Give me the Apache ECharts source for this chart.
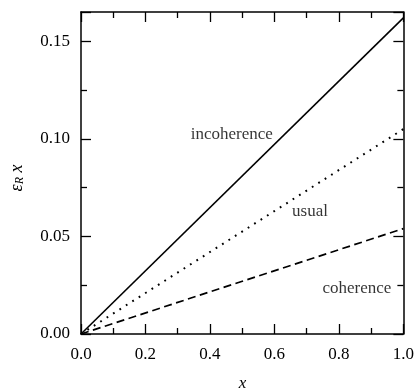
<!DOCTYPE html>
<html>
<head>
<meta charset="utf-8">
<script src="https://cdn.jsdelivr.net/npm/echarts@6/dist/echarts.min.js"></script>
<style>
  html, body { margin: 0; padding: 0; background: #fff; }
  #chart { width: 417px; height: 392px; }
</style>
</head>
<body>
<div id="chart"></div>
<script>
// Straight-line relations eps_R * x versus x for the three regimes
const xValues = [0, 1];
const incoherence = [0, 0.162];
const usual = [0, 0.105];
const coherence = [0, 0.054];

// Curve labels: [text, x, y] in data coordinates
const curveLabels = [
  ['incoherence', 0.4675, 0.1022],
  ['usual', 0.7105, 0.0628],
  ['coherence', 0.856, 0.0231]
];

const FONT = 'Liberation Serif, Times New Roman, serif';
const pairs = ys => xValues.map((x, i) => [x, ys[i]]);

const chart = echarts.init(document.getElementById('chart'));

const axisCommon = {
  axisLine: { show: true, onZero: false, lineStyle: { color: '#000', width: 1.5 } },
  axisTick: { show: true, inside: true, length: 10, lineStyle: { color: '#000', width: 1.3 } },
  minorTick: { show: true, splitNumber: 2, length: 6, lineStyle: { color: '#000', width: 1.3 } },
  splitLine: { show: false }
};

chart.setOption({
  animation: false,
  backgroundColor: '#fff',
  grid: { left: 81, right: 13, top: 12, bottom: 58 },
  xAxis: [
    Object.assign({
      type: 'value', min: 0, max: 1, interval: 0.2, position: 'bottom',
      axisLabel: { color: '#000', fontFamily: FONT, fontSize: 17, margin: 12,
        formatter: v => v.toFixed(1) }
    }, axisCommon),
    Object.assign({
      type: 'value', min: 0, max: 1, interval: 0.2, position: 'top',
      axisLabel: { show: false }
    }, axisCommon)
  ],
  yAxis: [
    Object.assign({
      type: 'value', min: 0, max: 0.165, interval: 0.05, position: 'left',
      axisLabel: { color: '#000', fontFamily: FONT, fontSize: 17, margin: 11,
        formatter: v => v.toFixed(2), showMaxLabel: false }
    }, axisCommon),
    Object.assign({
      type: 'value', min: 0, max: 0.165, interval: 0.05, position: 'right',
      axisLabel: { show: false }
    }, axisCommon)
  ],
  series: [
    {
      name: 'incoherence', type: 'line', data: pairs(incoherence),
      showSymbol: false, lineStyle: { color: '#000', width: 1.6, type: 'solid' }
    },
    {
      name: 'usual', type: 'line', data: pairs(usual),
      showSymbol: false,
      lineStyle: { color: '#000', width: 2, type: [1.8, 5.8], cap: 'butt' }
    },
    {
      name: 'coherence', type: 'line', data: pairs(coherence),
      showSymbol: false,
      lineStyle: { color: '#000', width: 1.7, type: [8, 4.5] }
    },
    {
      name: 'labels', type: 'scatter', symbolSize: 0, silent: true,
      itemStyle: { color: '#000' },
      data: curveLabels.map(d => ({ value: [d[1], d[2]], name: d[0] })),
      label: {
        show: true, position: 'inside', formatter: p => p.name,
        color: '#000', fontFamily: FONT, fontSize: 17,
        textBorderWidth: 0, textBorderColor: 'transparent'
      }
    }
  ],
  graphic: [
    {
      type: 'text', x: 242.5, y: 384,
      style: { text: 'x', fontFamily: FONT, fontSize: 17, fontStyle: 'italic',
        fill: '#000', align: 'center', verticalAlign: 'middle' }
    },
    {
      type: 'text', x: 17, y: 178, rotation: Math.PI / 2,
      style: {
        text: '{e|ε}{s|R}{e| x}',
        align: 'center', verticalAlign: 'middle',
        rich: {
          e: { fontFamily: FONT, fontSize: 18, fontStyle: 'italic', fill: '#000' },
          s: { fontFamily: FONT, fontSize: 12, fontStyle: 'italic', fill: '#000',
            verticalAlign: 'bottom', padding: [6, 0, 0, 0] }
        }
      }
    }
  ]
});
</script>
</body>
</html>
